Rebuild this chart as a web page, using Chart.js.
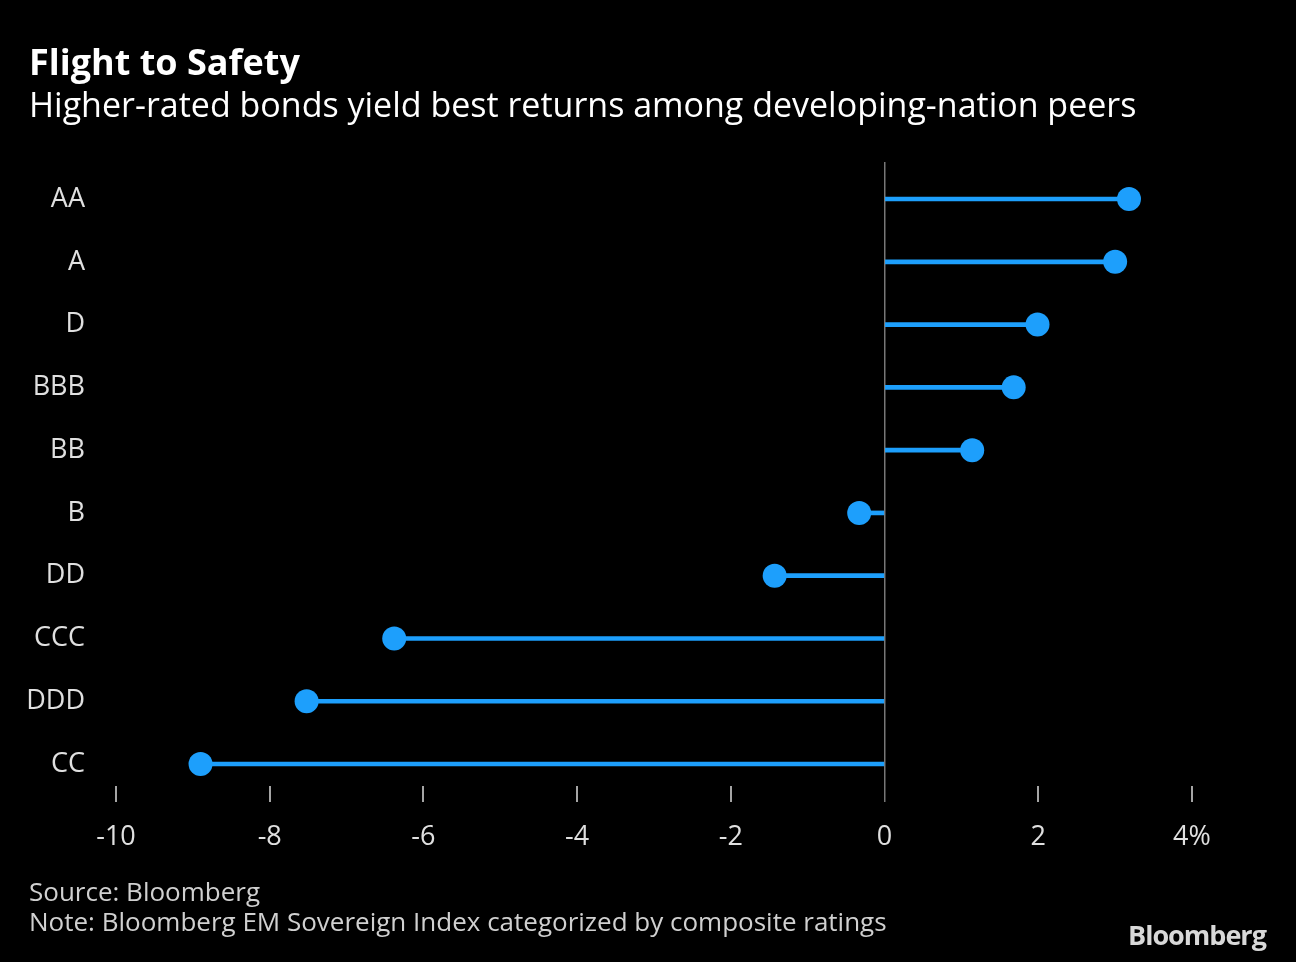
<!DOCTYPE html>
<html>
<head>
<meta charset="utf-8">
<script src="https://cdn.jsdelivr.net/npm/chart.js@4"></script>
<style>
	html, body { margin: 0; padding: 0; background: #000; }
	body { width: 1296px; height: 962px; position: relative; overflow: hidden; font-family: "Open Sans", sans-serif; color: #e6e6e6; }
	#wrap { position: absolute; left: 0; top: 0; width: 1296px; height: 962px; }
	.t { position: absolute; left: 29px; white-space: nowrap; }
	#title { top: 37px; font-size: 36px; font-weight: bold; color: #fff; }
	#sub { top: 81px; font-size: 34px; color: #fff; }
	#src { top: 873px; font-size: 26px; color: #d0d0d0; }
	#note { top: 903px; font-size: 26px; color: #d0d0d0; }
	#logo { position: absolute; left: 1128px; top: 916px; font-size: 27px; font-weight: bold; color: #d8d8d8; letter-spacing: -1px; }
</style>
</head>
<body>
<div id="wrap"><canvas id="chart" width="1296" height="962"></canvas></div>
<div class="t" id="title">Flight to Safety</div>
<div class="t" id="sub">Higher-rated bonds yield best returns among developing-nation peers</div>
<div class="t" id="src">Source: Bloomberg</div>
<div class="t" id="note">Note: Bloomberg EM Sovereign Index categorized by composite ratings</div>
<div id="logo">Bloomberg</div>
<script>
const ratings = ["AA", "A", "D", "BBB", "BB", "B", "DD", "CCC", "DDD", "CC"];
const returns = [3.18, 3.0, 1.99, 1.68, 1.14, -0.33, -1.43, -6.38, -7.52, -8.9];
const xTicks = [-10, -8, -6, -4, -2, 0, 2, 4];

const blue = '#1d9ffc';
const pts = returns.map((v, i) => ({x: v, y: i}));

new Chart("chart", {
	type: "bar",
	data: {
		datasets: [
			{
				type: "scatter",
				data: pts,
				backgroundColor: blue,
				borderWidth: 0,
				pointRadius: 12,
				pointHoverRadius: 12,
				order: 0,
			},
			{
				data: pts,
				backgroundColor: blue,
				barThickness: 4,
				order: 1,
			},
		],
	},
	options: {
		indexAxis: 'y',
		responsive: false,
		animation: false,
		events: [],
		layout: {padding: {top: 162, bottom: 76, right: 104, left: 0}},
		plugins: {legend: {display: false}, tooltip: {enabled: false}},
		scales: {
			x: {
				type: 'linear',
				min: -10,
				max: 4,
				afterBuildTicks: s => { s.ticks = xTicks.map(v => ({value: v})); },
				afterFit: s => { s.height = 100; },
				border: {display: false},
				grid: {
					drawOnChartArea: true,
					tickLength: 16,
					lineWidth: c => c.tick && c.tick.value == 0 ? 1.5 : 0,
					color: '#777',
					tickColor: c => c.tick && c.tick.value == 0 ? '#777' : '#ddd',
					tickWidth: 1.5,
				},
				ticks: {
					color: '#e0e0e0',
					padding: 19,
					font: {family: 'Open Sans', size: 27},
					callback: v => v == 4 ? '4%' : String(v),
				},
			},
			y: {
				type: 'linear',
				reverse: true,
				offset: false,
				min: -0.59,
				max: 9.35,
				afterBuildTicks: s => { s.ticks = ratings.map((r, i) => ({value: i})); },
				afterFit: s => { s.width = 116; },
				border: {display: false},
				grid: {display: false},
				ticks: {
					color: '#e0e0e0',
					padding: 23,
					font: {family: 'Open Sans', size: 27},
					callback: v => ratings[v],
				},
			},
		},
	},
});
</script>
</body>
</html>
